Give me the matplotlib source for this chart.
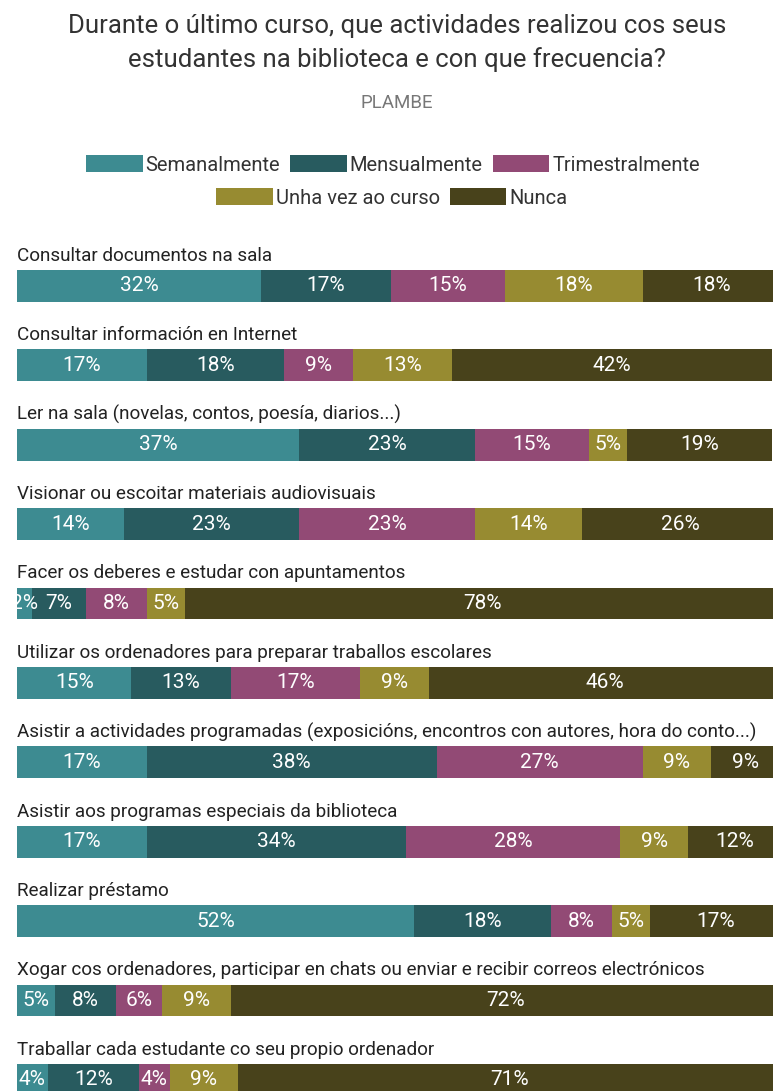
import matplotlib
matplotlib.use('Agg')
from matplotlib import pyplot as plt

plt.rcParams['font.family'] = ['Roboto', 'DejaVu Sans']

# survey data (percent of schools)
CATEGORIES = [
    'Consultar documentos na sala',
    'Consultar información en Internet',
    'Ler na sala (novelas, contos, poesía, diarios...)',
    'Visionar ou escoitar materiais audiovisuais',
    'Facer os deberes e estudar con apuntamentos',
    'Utilizar os ordenadores para preparar traballos escolares',
    'Asistir a actividades programadas (exposicións, encontros con autores, hora do conto...)',
    'Asistir aos programas especiais da biblioteca',
    'Realizar préstamo',
    'Xogar cos ordenadores, participar en chats ou enviar e recibir correos electrónicos',
    'Traballar cada estudante co seu propio ordenador',
]
SERIES = ['Semanalmente', 'Mensualmente', 'Trimestralmente', 'Unha vez ao curso', 'Nunca']
semanalmente = [32, 17, 37, 14, 2, 15, 17, 17, 52, 5, 4]
mensualmente = [17, 18, 23, 23, 7, 13, 38, 34, 18, 8, 12]
trimestralmente = [15, 9, 15, 23, 8, 17, 27, 28, 8, 6, 4]
unha_vez = [18, 13, 5, 14, 5, 9, 9, 9, 5, 9, 9]
nunca = [18, 42, 19, 26, 78, 46, 9, 12, 17, 72, 71]
COLORS = ['#3d8b91', '#285b5f', '#924a75', '#978b31', '#48421b']

W, H = 773, 1091
fig = plt.figure(figsize=(W / 100, H / 100), dpi=100)
ax = fig.add_axes([17 / W, 0, 763 / W, 1])
ax.set_xlim(0, 100)
ax.set_ylim(10.14, -3.60)
ax.axis('off')

rows = list(range(len(CATEGORIES)))
left = [0] * len(rows)
handles = []
for name, vals, col in zip(SERIES, [semanalmente, mensualmente, trimestralmente, unha_vez, nunca], COLORS):
    bars = ax.barh(rows, vals, left=left, height=0.40, color=col, label=name)
    for b, v in zip(bars, vals):
        # value label, clipped to its own segment
        t = ax.text(b.get_x() + b.get_width() / 2, b.get_y() + b.get_height() / 2, f'{v}%',
                    ha='center', va='center', color='white', fontsize=15)
        t.set_clip_path(b)
    left = [l + v for l, v in zip(left, vals)]
    handles.append(bars)

for i, cat in enumerate(CATEGORIES):
    ax.text(0, i - 0.38, cat, ha='left', va='center', fontsize=13.6, color='#222222')

fig.text(397 / W, 1 - 43 / H,
         'Durante o último curso, que actividades realizou cos seus\nestudantes na biblioteca e con que frecuencia?',
         ha='center', va='center', fontsize=18.5, color='#333333', linespacing=1.45)
fig.text(397 / W, 1 - 103 / H, 'PLAMBE', ha='center', va='center', fontsize=13.5, color='#777777')

leg_kw = dict(loc='center', frameon=False, handlelength=2.8, handleheight=0.9,
              handletextpad=0.15, columnspacing=0.5, fontsize=14.5, labelcolor='#333333')
fig.legend(handles[:3], SERIES[:3], bbox_to_anchor=(393 / W, 1 - 165 / H), ncol=3, **leg_kw)
fig.legend(handles[3:], SERIES[3:], bbox_to_anchor=(392 / W, 1 - 198 / H), ncol=2, **leg_kw)

fig.savefig('out.png', dpi=100)
